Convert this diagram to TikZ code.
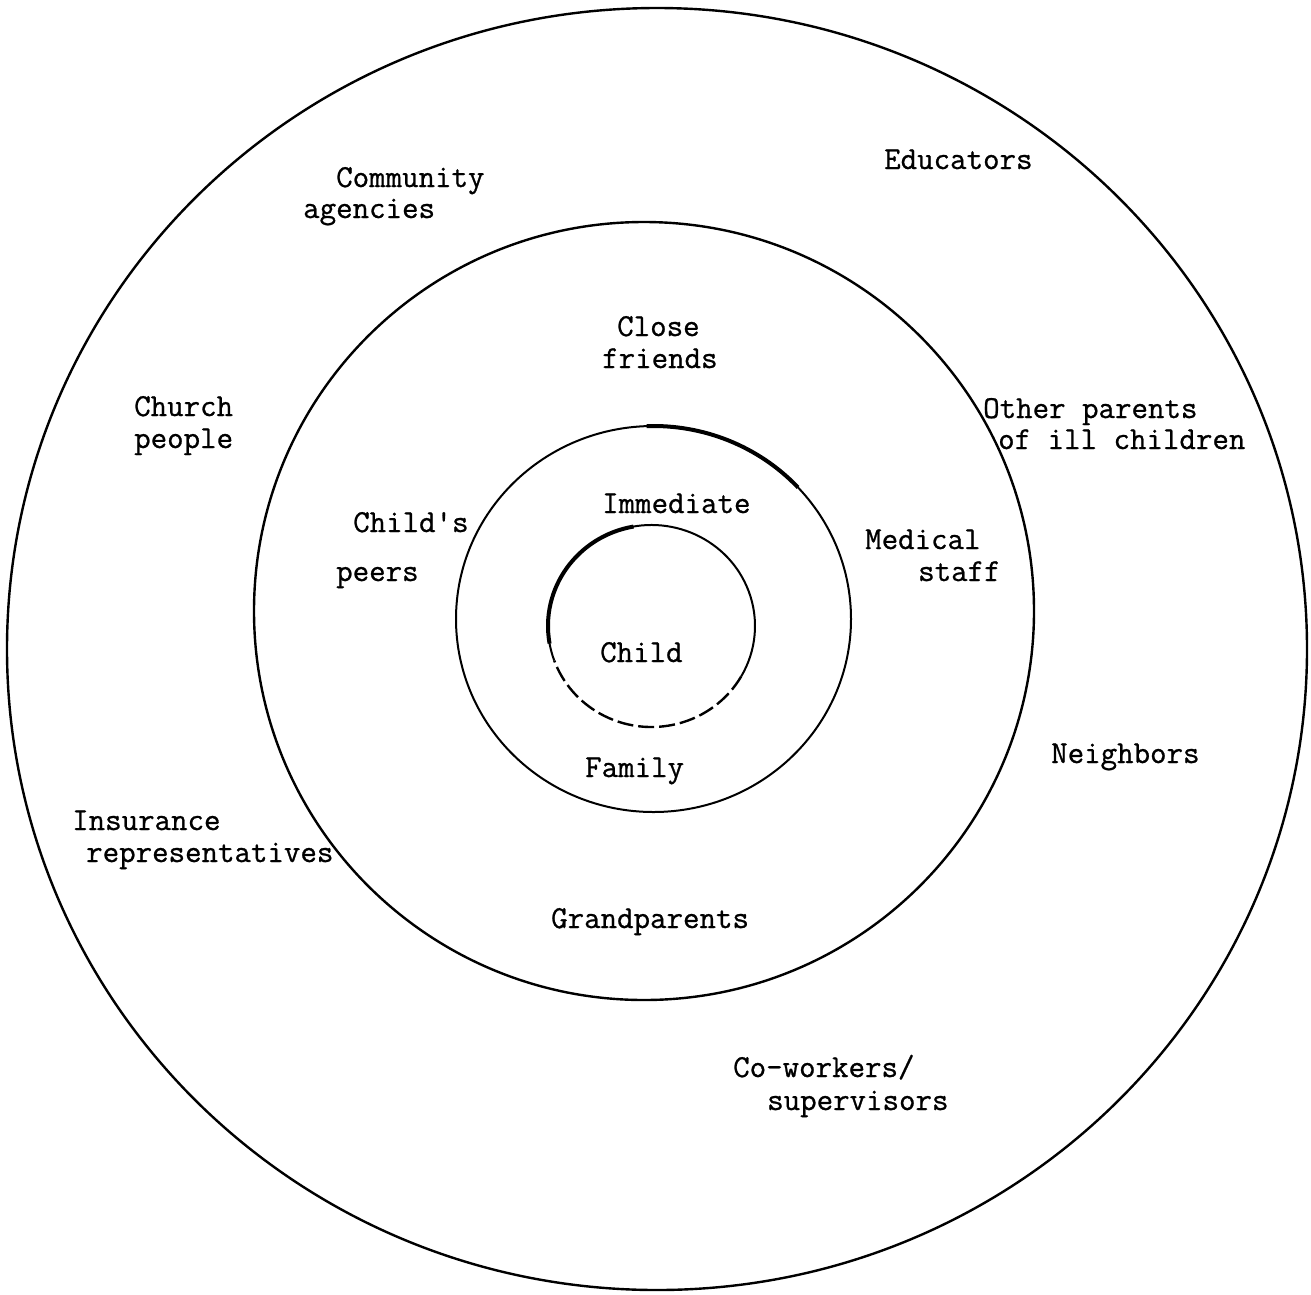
\documentclass[tikz,border=0pt]{standalone}
\usepackage{fontspec}
\setmonofont[FakeBold=0.8]{Latin Modern Mono}
\begin{document}
\begin{tikzpicture}[x=1pt,y=-1pt,
  lbl/.style={anchor=base west,inner sep=0pt,font=\ttfamily\fontsize{32}{33}\selectfont},
  ring/.style={line width=2.4pt,black}]
\useasboundingbox (0,0) rectangle (1311,1294);
\fill[white] (0,0) rectangle (1311,1294);
% rings
\draw[ring] (657,649) ellipse [x radius=650,y radius=641];
\draw[ring] (644,611) ellipse [x radius=390,y radius=389];
\draw[ring,line width=2pt] (653.5,619) ellipse [x radius=197.5,y radius=193];
\draw[line width=4pt] (653.5,619) ++(-92:197.5 and 193) arc[start angle=-92,end angle=-43,x radius=197.5,y radius=193];
% innermost ring
\coordinate (cc) at (651.5,626);
\draw[line width=2pt] (cc) ++(-200:103.5 and 101) arc[start angle=-200,end angle=30,x radius=103.5,y radius=101];
\draw[line width=2.4pt,dash pattern=on 16pt off 5pt] (cc) ++(30:103.5 and 101) arc[start angle=30,end angle=160,x radius=103.5,y radius=101];
\draw[line width=4pt] (cc) ++(-190:103.5 and 101) arc[start angle=-190,end angle=-100,x radius=103.5,y radius=101];
% labels
\node[lbl] (comm1) at (336,187) {Community};
\node[lbl] (comm2) at (303,218) {agencies};
\node[lbl] (educ) at (884,169) {Educators};
\node[lbl] (close1) at (617,336) {Close};
\node[lbl] (close2) at (602,368) {friends};
\node[lbl] (church1) at (134,416) {Church};
\node[lbl] (church2) at (134,448) {people};
\node[lbl] (other1) at (983,418) {Other parents};
\node[lbl] (other2) at (998,449) {of ill children};
\node[lbl] (imm) at (602,513) {Immediate};
\node[lbl] (peer1) at (353,532) {Child's};
\node[lbl] (peer2) at (336,581) {peers};
\node[lbl] (med1) at (865,549) {Medical};
\node[lbl] (med2) at (918,581) {staff};
\node[lbl] (child) at (600,662) {Child};
\node[lbl] (fam) at (585,777) {Family};
\node[lbl] (neigh) at (1051,763) {Neighbors};
\node[lbl] (ins1) at (72,830) {Insurance};
\node[lbl] (ins2) at (86,862) {representatives};
\node[lbl] (grand) at (551,928) {Grandparents};
\node[lbl] (cow1) at (733,1077) {Co-workers/};
\node[lbl] (cow2) at (767,1110) {supervisors};
\end{tikzpicture}
\end{document}
